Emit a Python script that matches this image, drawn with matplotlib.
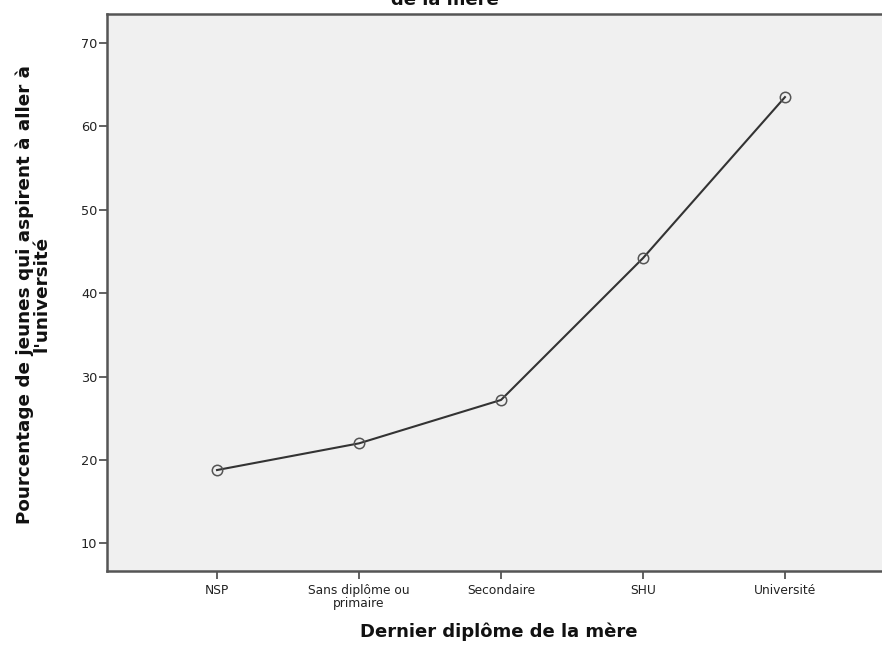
import matplotlib
matplotlib.use("Agg")
import matplotlib.pyplot as plt

categories = ["NSP", "Sans diplôme ou\nprimaire", "Secondaire", "SHU", "Université"]
values = [18.8, 22.0, 27.2, 44.2, 63.5]
yticks = [10, 20, 30, 40, 50, 60, 70]

W, H = 882, 651
fig = plt.figure(figsize=(W / 100, H / 100), dpi=100)
fig.patch.set_facecolor("white")

left, right, top, bottom = 107, 895, 14, 570.5
ax = fig.add_axes([left / W, 1 - bottom / H, (right - left) / W, (bottom - top) / H])
ax.set_facecolor("#f0f0f0")

x = list(range(len(categories)))
ax.plot(x, values, color="#333333", lw=1.5, marker="o", ms=7.5,
        mfc="none", mec="#555555", mew=1.1, zorder=3)

ax.set_xlim(-0.775, 4.775)
ax.set_ylim(6.76, 73.46)
ax.set_xticks(x)
ax.set_xticklabels(categories, fontsize=8.8, color="#222222", linespacing=1.0)
ax.set_yticks(yticks)
ax.set_yticklabels([str(v) for v in yticks], fontsize=9.3, color="#222222")

for s in ax.spines.values():
    s.set_color("#555555")
    s.set_linewidth(1.8)
ax.tick_params(axis="x", direction="out", length=5.5, width=1.3, color="#555555", pad=4.5)
ax.tick_params(axis="y", direction="out", length=5.5, width=1.3, color="#555555", pad=1.5)

fig.text(33 / W, 1 - 294 / H,
         "Pourcentage de jeunes qui aspirent à aller à\nl'université",
         rotation=90, ha="center", va="center", multialignment="center",
         fontsize=13.2, fontweight="bold", color="#111111", linespacing=0.95)
fig.text(499 / W, 1 - 632 / H, "Dernier diplôme de la mère",
         ha="center", va="center", fontsize=13, fontweight="bold", color="#111111")
fig.text(445 / W, 1 - 5 / H, "de la mère",
         ha="center", va="baseline", fontsize=13, fontweight="bold", color="#111111")

fig.savefig("out.png", dpi=100)
